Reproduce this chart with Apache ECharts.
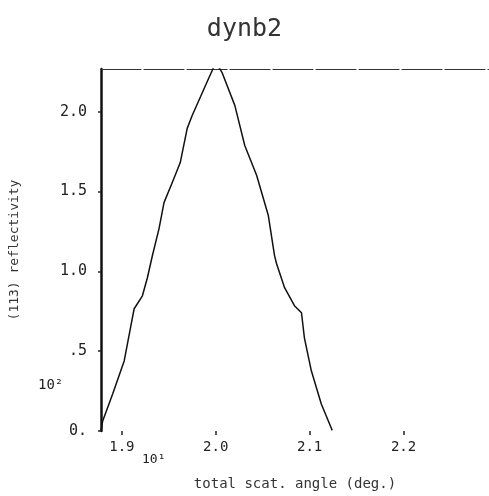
<!DOCTYPE html>
<html><head><meta charset="utf-8">
<script src="https://cdn.jsdelivr.net/npm/echarts@6/dist/echarts.min.js"></script>
<style>html,body{margin:0;padding:0;background:#fff}#c{width:489px;height:496px}</style>
</head><body><div id="c"></div>
<script>
const titleText = "dynb2";
const xName = "total scat. angle (deg.)";
const yName = "(113) reflectivity";
const xTicks = [1.9, 2.0, 2.1, 2.2];
const xTickLabels = ["1.9", "2.0", "2.1", "2.2"];
const yTicks = [0, 0.5, 1.0, 1.5, 2.0];
const yTickLabels = ["0.", ".5", "1.0", "1.5", "2.0"];
const xMultiplier = "10¹";
const yMultiplier = "10²";
const angle = [1.8778,1.8796,1.8902,1.9025,1.9092,1.9131,1.9219,1.9272,1.9325,1.9396,1.9449,1.9537,1.9622,1.9696,1.9749,1.9925,2.0002,2.0066,2.0203,2.0309,2.0436,2.0560,2.0626,2.0648,2.0733,2.0838,2.0913,2.0944,2.1018,2.1124,2.1230,2.1240];
const reflectivity = [0,0.063,0.232,0.439,0.646,0.766,0.847,0.960,1.098,1.268,1.431,1.557,1.682,1.896,1.977,2.210,2.31,2.247,2.040,1.789,1.601,1.350,1.099,1.048,0.898,0.785,0.741,0.584,0.377,0.169,0.019,0.004];

const font = "DejaVu Sans Mono";
const chart = echarts.init(document.getElementById('c'));
const fmt = (vals, labels) => v => { const i = vals.findIndex(t => Math.abs(t - v) < 1e-6); return i >= 0 ? labels[i] : ''; };
chart.setOption({
  animation: false,
  backgroundColor: '#fff',
  title: { text: titleText, left: 'center', top: 12, textStyle: { fontFamily: font, fontSize: 25, fontWeight: 'normal', color: '#333' } },
  grid: { left: 98, right: 0, top: 69, bottom: 65 },
  xAxis: [{
    type: 'value', min: 1.8778, max: 2.291, position: 'bottom',
    name: xName, nameLocation: 'middle', nameGap: 46,
    nameTextStyle: { fontFamily: font, fontSize: 14, color: '#333' },
    axisLine: { show: false },
    axisTick: { show: true, length: 4, customValues: xTicks, lineStyle: { color: '#222', width: 1.5 } },
    axisLabel: { customValues: xTicks, formatter: fmt(xTicks, xTickLabels), fontFamily: font, fontSize: 14, color: '#222', margin: 9 },
    splitLine: { show: false }
  }, {
    type: 'value', min: 1.8778, max: 2.291, position: 'top',
    axisLine: { show: true, lineStyle: { color: '#333', width: 1.2, type: [40, 3] } },
    axisTick: { show: false }, axisLabel: { show: false }, splitLine: { show: false }
  }],
  yAxis: {
    type: 'value', min: 0, max: 2.268,
    name: yName, nameLocation: 'middle', nameGap: 80, nameRotate: 90,
    nameTextStyle: { fontFamily: font, fontSize: 13, color: '#333' },
    axisLine: { show: true, lineStyle: { color: '#111', width: 2.5 } },
    axisTick: { show: true, length: 3, customValues: yTicks, lineStyle: { color: '#222', width: 1.5 } },
    axisLabel: { customValues: yTicks, formatter: fmt(yTicks, yTickLabels), fontFamily: font, fontSize: 15, color: '#222', margin: 14 },
    splitLine: { show: false }
  },
  graphic: [
    { type: 'text', left: 142, top: 453, style: { text: xMultiplier, fontFamily: font, fontSize: 13, fill: '#222' } },
    { type: 'text', left: 38, top: 378, style: { text: yMultiplier, fontFamily: font, fontSize: 14, fill: '#222' } }
  ],
  series: [{
    type: 'line', xAxisIndex: 0, showSymbol: false, clip: true,
    data: angle.map((a, i) => [a, reflectivity[i]]),
    lineStyle: { color: '#111', width: 1.5 }
  }]
});
</script></body></html>
